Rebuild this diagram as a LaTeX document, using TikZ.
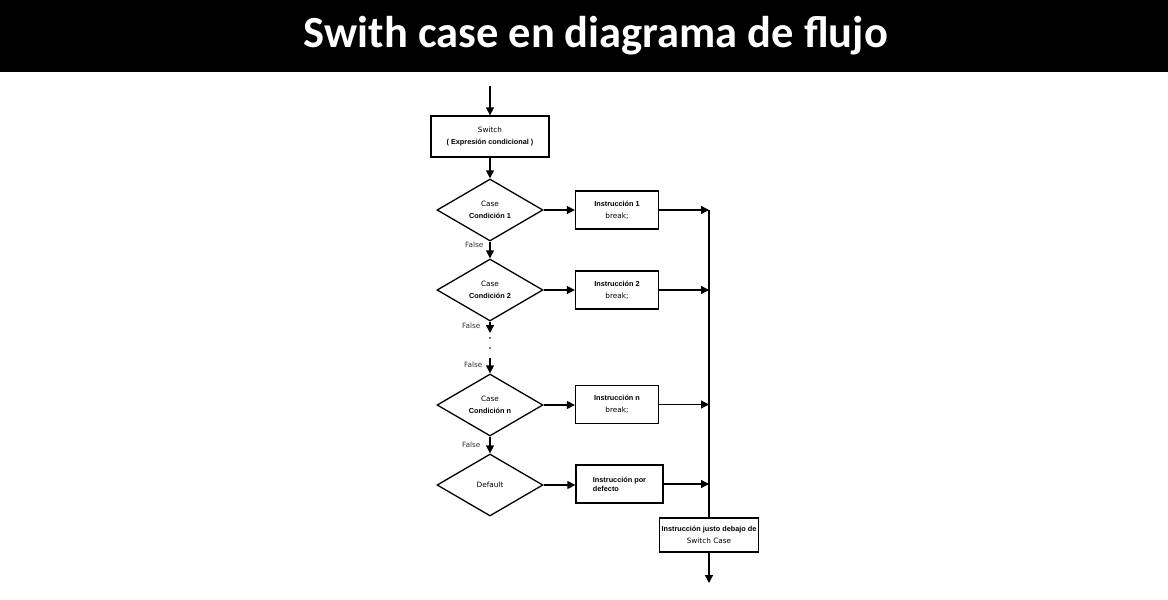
\documentclass[tikz,border=0pt]{standalone}
\usepackage{fontspec}
\setmainfont{DejaVu Sans}
\newfontfamily\titlefont{Carlito}
\newfontfamily\bfont[BoldFont={Liberation Sans Bold}]{Liberation Sans}
\usetikzlibrary{shapes.geometric,arrows.meta,positioning}

\newcommand{\bt}[1]{{\bfont\bfseries #1}}

\tikzset{
  line/.style={line width=1.3pt},
  arr/.style={line, -{Triangle[length=8pt,width=8pt]}},
  proc/.style={draw, line width=1.3pt, align=center, inner sep=1pt,
               font=\fontsize{7.3}{12}\selectfont},
  decision/.style={diamond, draw, line width=1.3pt, align=center, inner sep=0pt,
                   minimum width=106pt, minimum height=62pt,
                   font=\fontsize{7.3}{12}\selectfont},
  falso/.style={text=black!80, font=\fontsize{7.3}{8}\selectfont},
}

\begin{document}
\begin{tikzpicture}[x=1pt,y=-1pt]
\useasboundingbox (0,0) rectangle (1168,600);

% title bar
\fill[black] (0,0) rectangle (1168,72);
\node[text=white, font=\titlefont\bfseries\fontsize{44.5}{46}\selectfont] (title) at (596,36) {Swith case en diagrama de flujo};

% switch
\coordinate (in) at (490,86);
\node[proc, minimum width=118pt, minimum height=41pt] (sw) at (490,136.5)
  {Switch\\\bt{( Expresión condicional )}};
\draw[arr] (in) -- (sw.north);

% cases
\foreach \i/\y/\txt in {1/210/{Case\\\bt{Condición 1}},
                        2/290/{Case\\\bt{Condición 2}},
                        n/405/{Case\\\bt{Condición n}},
                        d/485/{Default}}
  \node[decision] (d\i) at (490,\y) {\txt};

\foreach \i/\y/\txt in {1/210/{\bt{Instrucción 1}\\break;},
                        2/290/{\bt{Instrucción 2}\\break;},
                        n/404.5/{\bt{Instrucción n}\\break;}}
  \node[proc, minimum width=83pt, minimum height=38pt] (b\i) at (617,\y) {\txt};
\node[proc, minimum width=87pt, minimum height=38pt, align=left] (bd) at (619.5,484)
  {\bt{Instrucción por}\\[-3pt]\bt{defecto}};

% end
\node[proc, minimum width=99pt, minimum height=34pt] (fin) at (709,535)
  {\bt{Instrucción justo debajo de}\\Switch Case};
\coordinate (out) at (709,583);

\draw[arr] (sw.south) -- (d1.north);
\draw[arr] (d1.south) -- (d2.north);
\coordinate (c2) at (490,333);
\coordinate (c3) at (490,358);
\draw[arr] (d2.south) -- (c2);
\foreach \yy in {338,348}
  \fill (490,\yy) circle (0.8pt);
\draw[arr] (c3) -- (dn.north);
\draw[arr] (dn.south) -- (dd.north);

\node[falso, anchor=east] (f1) at (487,245) {False};
\node[falso, anchor=east] (f2) at (484,326) {False};
\node[falso, anchor=east] (f3) at (486,365) {False};
\node[falso, anchor=east] (f4) at (484,445) {False};

\foreach \i in {1,2,n,d} {
  \draw[arr] (d\i.east) -- (b\i.west |- d\i.east);
  \draw[arr] (b\i.east) -- (b\i.east -| fin.north);
}
\draw[line] (b1.east -| fin.north) -- (fin.north);
\draw[arr] (fin.south) -- (out);

\end{tikzpicture}
\end{document}
